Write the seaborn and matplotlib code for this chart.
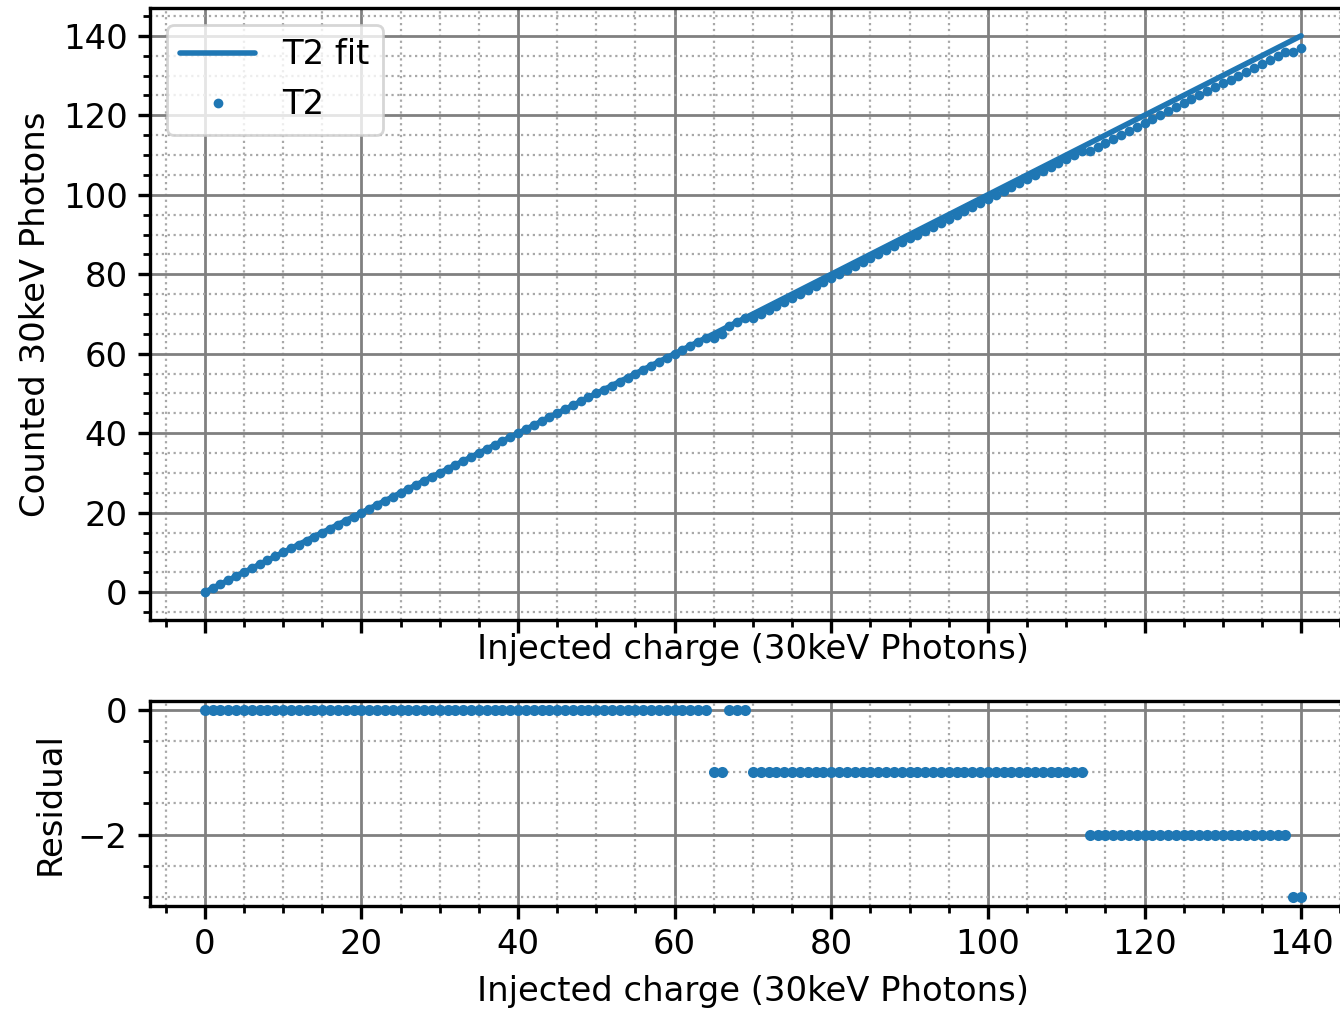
import numpy as np
import pandas as pd
import matplotlib
matplotlib.use("Agg")
import matplotlib.pyplot as plt
from matplotlib.ticker import MultipleLocator
import seaborn as sns

# injected charge steps (30keV photons) and the residual
injected = list(range(0, 141))
residual = ([0] * 65 + [-1] * 2 + [0] * 3 + [-1] * 43 + [-2] * 26 + [-3] * 2)
counted = [q + r for q, r in zip(injected, residual)]
fit_x = [0, 140]
fit_y = [0, 140]

df = pd.DataFrame({"injected": injected, "counted": counted, "residual": residual})
fit = pd.DataFrame({"x": fit_x, "y": fit_y})

sns.set_style("white")
plt.rcParams["font.family"] = ["DejaVu Sans"]
plt.rcParams["font.size"] = 12.2
for k in ("text.color", "axes.labelcolor", "xtick.color", "ytick.color", "axes.edgecolor"):
    plt.rcParams[k] = "black"
plt.rcParams["axes.linewidth"] = 1.2
plt.rcParams["xtick.major.width"] = 1.2
plt.rcParams["ytick.major.width"] = 1.2
plt.rcParams["xtick.minor.width"] = 1.0
plt.rcParams["ytick.minor.width"] = 1.0
plt.rcParams["xtick.major.size"] = 4.5
plt.rcParams["ytick.major.size"] = 4.5
plt.rcParams["xtick.minor.size"] = 2.5
plt.rcParams["ytick.minor.size"] = 2.5

blue = "#1f77b4"

fig = plt.figure(figsize=(6.7, 5.045), dpi=200)
ax = fig.add_axes([0.1119, 0.3855, 0.9, 0.6066])
ax2 = fig.add_axes([0.1119, 0.1021, 0.9, 0.2032])

# oberes Panel: Fit + Messpunkte
ax.plot(df["injected"], df["counted"], ls="none", marker="o", ms=2.5,
        color=blue, label="T2", zorder=2)
sns.lineplot(data=fit, x="x", y="y", ax=ax, color=blue, lw=2.0, label="T2 fit",
             zorder=3)
h, l = ax.get_legend_handles_labels()
ax.set_xlim(-7, 147)
ax.set_ylim(-7, 147)
ax.xaxis.set_major_locator(MultipleLocator(20))
ax.xaxis.set_minor_locator(MultipleLocator(5))
ax.yaxis.set_major_locator(MultipleLocator(20))
ax.yaxis.set_minor_locator(MultipleLocator(5))
ax.tick_params(which="both", left=True, bottom=True, labelbottom=False)
ax.set_xlabel("Injected charge (30keV Photons)", labelpad=0)
ax.set_ylabel("Counted 30keV Photons")
ax.legend(h[::-1], l[::-1], loc="upper left", numpoints=1, markerscale=1.0,
          fancybox=True, framealpha=0.8, fontsize=12.2, handlelength=2.2)

# unteres Panel: Residuen
sns.scatterplot(data=df, x="injected", y="residual", ax=ax2, color=blue,
                s=16, linewidth=0, zorder=3)
ax2.set_xlim(-7, 147)
ax2.set_ylim(-3.15, 0.15)
ax2.xaxis.set_major_locator(MultipleLocator(20))
ax2.xaxis.set_minor_locator(MultipleLocator(5))
ax2.yaxis.set_major_locator(MultipleLocator(2))
ax2.yaxis.set_minor_locator(MultipleLocator(0.5))
ax2.tick_params(which="both", left=True, bottom=True)
ax2.set_xlabel("Injected charge (30keV Photons)", labelpad=5)
ax2.set_ylabel("Residual")

for a in (ax, ax2):
    a.grid(which="major", color="#808080", lw=1.0, ls="-")
    a.grid(which="minor", color="#a8a8a8", lw=0.8, ls=":")
    a.set_axisbelow(True)

fig.savefig("out.png", dpi=200)
